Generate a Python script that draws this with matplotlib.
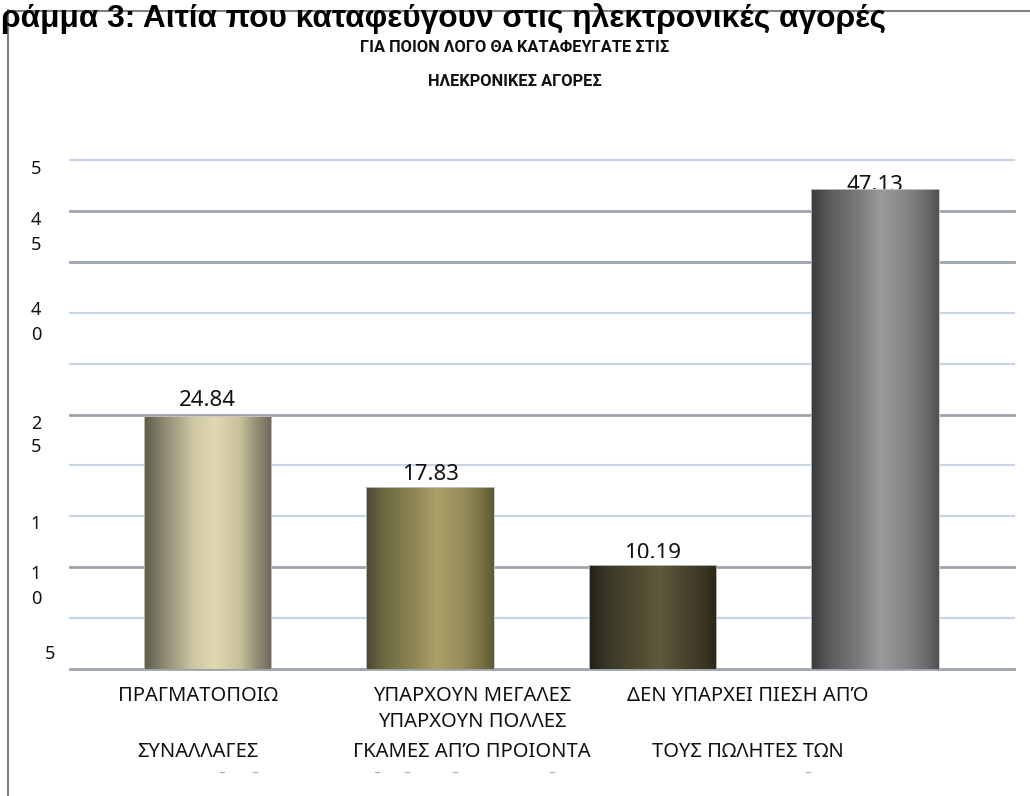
import numpy as np
import matplotlib
matplotlib.use("Agg")
import matplotlib.pyplot as plt
from matplotlib.colors import LinearSegmentedColormap
from matplotlib.lines import Line2D
from matplotlib.transforms import Bbox

# ---------------- data ----------------
values = [24.84, 17.83, 10.19, 47.13]
value_labels = ["24.84", "17.83", "10.19", "47.13"]
cat_line1 = ["ΠΡΑΓΜΑΤΟΠΟΙΩ", "ΥΠΑΡΧΟΥΝ ΜΕΓΑΛΕΣ", "ΔΕΝ ΥΠΑΡΧΕΙ ΠΙΕΣΗ ΑΠΌ"]
cat_line2 = ["", "ΥΠΑΡΧΟΥΝ ΠΟΛΛΕΣ", ""]
cat_line3 = ["ΣΥΝΑΛΛΑΓΕΣ", "ΓΚΑΜΕΣ ΑΠΌ ΠΡΟΙΟΝΤΑ", "ΤΟΥΣ ΠΩΛΗΤΕΣ ΤΩΝ"]
grid_values = [0, 5, 10, 15, 20, 25, 30, 35, 40, 45, 50]
ytick_fragments = ["5", "4", "5", "4", "0", "2", "5", "1", "1", "0", "5"]
title = "ράμμα 3: Αιτία που καταφεύγουν στις ηλεκτρονικές αγορές"
subtitle = ["ΓΙΑ ΠΟΙΟΝ ΛΟΓΟ ΘΑ ΚΑΤΑΦΕΥΓΑΤΕ ΣΤΙΣ", "ΗΛΕΚΡΟΝΙΚΕΣ ΑΓΟΡΕΣ"]

# ---------------- style ----------------
W, H = 1030, 796
def fx(x): return x / W
def fy(y): return 1 - y / H

GREEK = ["Noto Sans", "DejaVu Sans"]
bar_stops = [
    ["#5e5b4a", "#8c8770", "#cdc6a2", "#e0d9b3", "#c8c09c", "#8d8770", "#6e6a58"],
    ["#4c4830", "#6f6a45", "#8e8652", "#aca06a", "#988e5a", "#7a7244", "#5f5a36"],
    ["#222016", "#3c3927", "#4f4a30", "#5d5a3e", "#48442c", "#3a3624", "#2a2818"],
    ["#3a3a3a", "#5c5c5c", "#7c7c7c", "#9a9a9a", "#858585", "#6c6c6c", "#505050"],
]
stop_pos = [0.0, 0.15, 0.38, 0.55, 0.75, 0.9, 1.0]
grid_colors = ["#9ca3ab", "#c9d5e6", "#9ca3ab", "#c9d5e6", "#c9d5e6", "#9ca3ab",
               "#c9d5e6", "#c9d5e6", "#9ca3ab", "#9ca3ab", "#c9d5e6"]
label_offsets = [1.57, 1.28, 1.2, 0.35]

fig = plt.figure(figsize=(W / 100, H / 100), dpi=100)
fig.patch.set_facecolor("white")

# axes: x centers at 207.5 px .. 875 px, y 0 at 669 px, 50 at 160 px
ax_left, ax_right, ax_top, ax_bot = 70, 1014, 160, 669
ax = fig.add_axes([fx(ax_left), fy(ax_bot), (ax_right - ax_left) / W, (ax_bot - ax_top) / H])
xlim = ((ax_left - 207.5) / 222.5, (ax_right - 207.5) / 222.5)
ax.axis("off")

for gv, gc in zip(grid_values, grid_colors):
    lw = 2.0 if gc == "#9ca3ab" else 1.6
    ax.axhline(gv, color=gc, lw=lw, zorder=1, clip_on=False)

xpos = np.arange(len(values))
bars = ax.bar(xpos, values, width=0.575, color="none", edgecolor="none", zorder=3)

grad = np.linspace(0, 1, 256).reshape(1, -1)
for b, stops in zip(bars, bar_stops):
    cmap = LinearSegmentedColormap.from_list("g", list(zip(stop_pos, stops)))
    x0, w, h = b.get_x(), b.get_width(), b.get_height()
    im = ax.imshow(grad, cmap=cmap, aspect="auto", extent=[x0, x0 + w, 0, h],
                   zorder=3, interpolation="bicubic")
    im.set_clip_path(b)
    ax.add_patch(plt.Rectangle((x0, 0), w, h, fill=False, edgecolor="#c8c8c8",
                               lw=0.6, zorder=4))
ax.set_xlim(*xlim)
ax.set_ylim(0, 50)

for i, (v, lab, off) in enumerate(zip(values, value_labels, label_offsets)):
    t = ax.text(xpos[i], v + off, lab, ha="center", va="center", fontsize=16,
                family=GREEK, color="#111111", zorder=2)
    if i == 2:
        fig.canvas.draw()
        bb = ax.transData.transform([(xpos[i] - 1, v + 0.7), (xpos[i] + 1, v + 5)])
        t.set_clip_box(Bbox(bb))
        t.set_clip_on(True)

# garbled y tick fragments
ytick_y = [169, 220, 245, 310, 335, 424, 447, 524, 574, 599, 654]
ytick_x = [36, 36, 36, 36, 36, 36, 36, 36, 36, 36, 50]
for s, xx, yy in zip(ytick_fragments, ytick_x, ytick_y):
    fig.text(fx(xx), fy(yy), s, ha="center", va="center", fontsize=13,
             family=GREEK, color="#111111")

# category labels
cat_x = [198, 472, 748]
row_y = [696, 722, 752]
for cx, a, b2, c in zip(cat_x, cat_line1, cat_line2, cat_line3):
    for txt, ry in zip([a, b2, c], row_y):
        if txt:
            fig.text(fx(cx), fy(ry), txt, ha="center", va="center", fontsize=14.5,
                     family=GREEK, color="#111111")

# small stray marks at the bottom
for mx in [222, 255, 377, 407, 455, 552, 808]:
    fig.add_artist(Line2D([fx(mx - 2), fx(mx + 2)], [fy(772), fy(772)],
                          color="#aaaaaa", lw=0.8))

# title and subtitle
fig.text(fx(1), fy(27), title, ha="left", va="baseline", fontsize=22.8,
         fontweight="bold", family=["Liberation Sans", "DejaVu Sans"], color="#000000")
for line, yy in zip(subtitle, [48, 81]):
    fig.text(fx(515), fy(yy), line, ha="center", va="center", fontsize=11.8,
             fontweight="bold", family=["Roboto", "DejaVu Sans"], color="#111111")

# frame lines
fig.add_artist(Line2D([fx(8), fx(8)], [fy(10), fy(800)], color="#808080", lw=1.5))
fig.add_artist(Line2D([fx(8), fx(1032)], [fy(10.5), fy(10.5)], color="#808080", lw=1.5))

fig.savefig("out.png", dpi=100, facecolor="white")
